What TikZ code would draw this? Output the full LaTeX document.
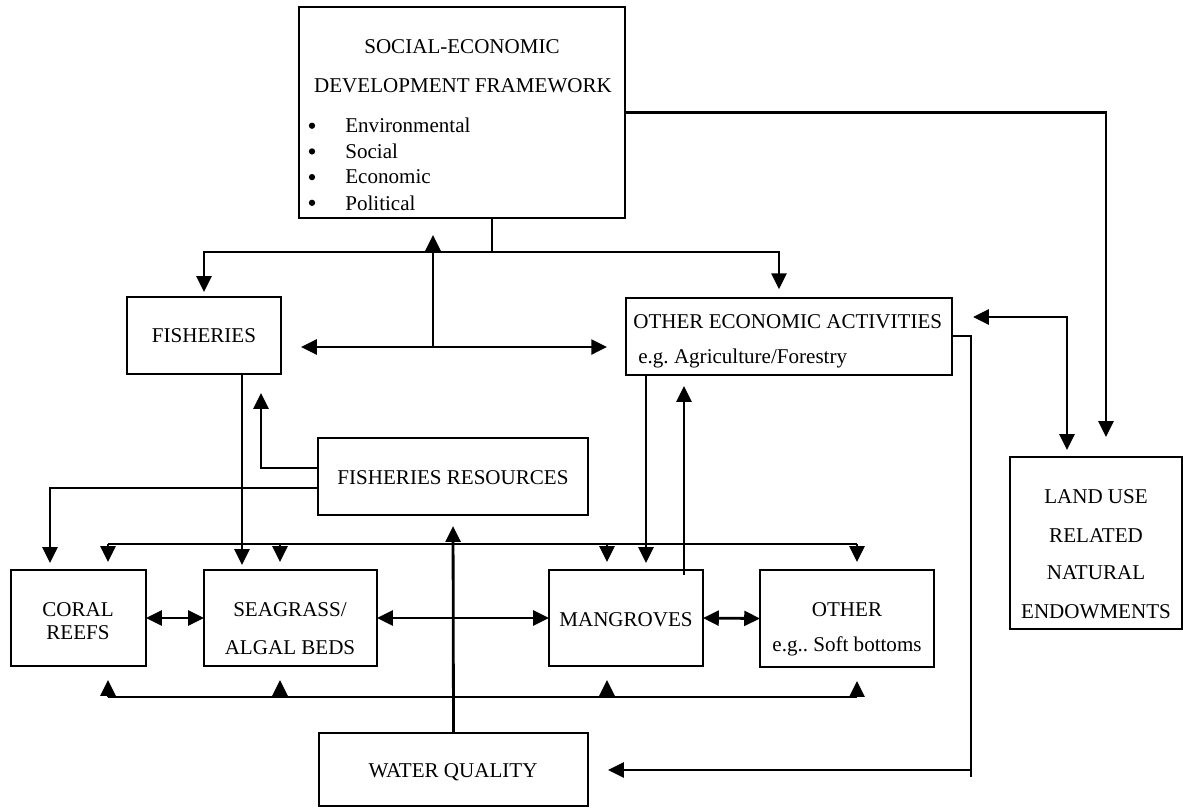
\documentclass[tikz,border=0pt]{standalone}
\usepackage{fontspec}
\setmainfont{Liberation Serif}
\usetikzlibrary{arrows.meta,fit}
\tikzset{
  box/.style  = {draw, line width=1.1pt, inner sep=0pt, outer sep=0pt},
  lbl/.style  = {font=\fontsize{12}{14}\selectfont, inner sep=0pt},
  dot/.style  = {circle, fill, minimum size=#1, inner sep=0pt, outer sep=0pt},
  dot/.default = 3.6pt,
  conn/.style = {line width=1.6pt},
  arr/.style  = {conn, -{Triangle[length=9pt,width=8.5pt]}},
  dbl/.style  = {conn, {Triangle[length=9pt,width=8.5pt]}-{Triangle[length=9pt,width=8.5pt]}}
}

\begin{document}
\begin{tikzpicture}[x=0.57pt, y=-0.57pt]
	\useasboundingbox (0,0) rectangle (1183,808);

	% Boxes
	\node[box, line width=1.6pt, fit={(299,7) (625,218)}] (sed) {};
	\node[box, fit={(127,297) (281,374)}] (fish) {};
	\node[box, fit={(626,298) (952,375)}] (oea) {};
	\node[box, fit={(318,438) (588,515)}] (fres) {};
	\node[box, fit={(11,570) (146,666)}] (coral) {};
	\node[box, fit={(204,570) (377,666)}] (sea) {};
	\node[box, fit={(549,570) (703,666)}] (mang) {};
	\node[box, fit={(760,570) (934,667)}] (oth) {};
	\node[box, fit={(1010,457) (1182,629)}] (land) {};
	\node[box, fit={(319,733) (588,806)}] (wq) {};

	% Texts
	\node[lbl] (sedA) at (462,47) {SOCIAL-ECONOMIC};
	\node[lbl] (sedB) at (463,86) {DEVELOPMENT FRAMEWORK};
	\foreach \t [count=\i] in {Environmental,Social,Economic,Political}{
		\node[dot] (bul\i) at (312,100+25.7*\i) {};
		\node[lbl, anchor=west] (item\i) at (345,100+25.7*\i) {\t};
	}
	\node[lbl] (fishT) at (204,336) {FISHERIES};
	\node[lbl, anchor=west] (oeaA) at (633,322) {OTHER ECONOMIC ACTIVITIES};
	\node[lbl, anchor=west] (oeaB) at (638,358) {e.g.\ Agriculture/Forestry};
	\node[lbl] (fresT) at (453,478) {FISHERIES RESOURCES};
	\node[lbl] (coralA) at (78,610) {CORAL};
	\node[lbl] (coralB) at (78,633) {REEFS};
	\node[lbl] (seaA) at (290,610) {SEAGRASS/};
	\node[lbl] (seaB) at (290,648) {ALGAL BEDS};
	\node[lbl] (mangT) at (626,620) {MANGROVES};
	\node[lbl] (othA) at (847,610) {OTHER};
	\node[lbl] (othB) at (847,646) {e.g..\ Soft bottoms};
	\node[lbl] (landA) at (1096,497) {LAND USE};
	\node[lbl] (landB) at (1096,536) {RELATED};
	\node[lbl] (landC) at (1096,573) {NATURAL};
	\node[lbl] (landD) at (1096,612) {ENDOWMENTS};
	\node[lbl] (wqT) at (453,772) {WATER QUALITY};

	% Framework to activities
	\coordinate (split) at (492,252);
	\coordinate (hub) at (433,347);
	\draw[conn] (sed.south -| split) -- (split);
	\draw[arr, shorten >=2.9pt] (split) -| (fish.north);
	\draw[arr, shorten >=5pt] (split) -| (oea.north -| 779,0);
	\draw[arr, shorten >=9.7pt] (hub) -- (sed.south -| hub);
	\draw[dbl, shorten <=11.4pt, shorten >=10.8pt] (fish.east |- hub) -- (oea.west |- hub);

	% Land use
	\draw[arr, shorten >=11.4pt] (sed.east) -| (land.north -| 1106,0);
	\draw[dbl, shorten <=12pt, shorten >=4pt] (oea.east |- 0,317) -| (land.north -| 1067,0);

	% Activities down to water quality
	\coordinate (drop) at (971,770);
	\draw[arr, shorten >=11.4pt] (oea.east |- 0,336) -| (drop) -- (wq.east |- drop);
	\draw[conn] (drop) -- ++(0,7);

	% Activities and mangroves
	\draw[arr, shorten >=4pt] (oea.south -| 646,0) -- (mang.north -| 646,0);
	\draw[arr, shorten <=-2.8pt, shorten >=6.3pt] (mang.north -| 684,0) -- (oea.south -| 684,0);

	% Fisheries and resources
	\draw[arr, shorten >=2.9pt] (fish.south -| 242,0) -- (sea.north -| 242,0);
	\draw[arr, shorten >=10.8pt] (fres.west |- 0,468) -| (fish.south -| 261,0);
	\draw[arr, shorten >=4pt] (fres.west |- 0,488) -| (coral.north -| 50,0);
	\draw[arr, shorten >=6.3pt] (wq.north) -- (fres.south);

	% Habitat buses
	\draw[conn] (108,544) -- (857,544);
	\draw[conn] (108,697) -- (857,697);
	\foreach \x/\b in {108/coral, 280/sea, 607/mang, 857/oth}{
		\draw[arr, shorten >=4.6pt] (\x,544) -- (\b.north -| \x,0);
		\draw[arr, shorten >=8pt] (\x,697) -- (\b.south -| \x,0);
	}

	% Habitat links
	\draw[dbl] (coral.east) -- (sea.west);
	\draw[dbl] (sea.east) -- (mang.west);
	\draw[dbl] (mang.east) -- (oth.west);

\end{tikzpicture}
\end{document}
